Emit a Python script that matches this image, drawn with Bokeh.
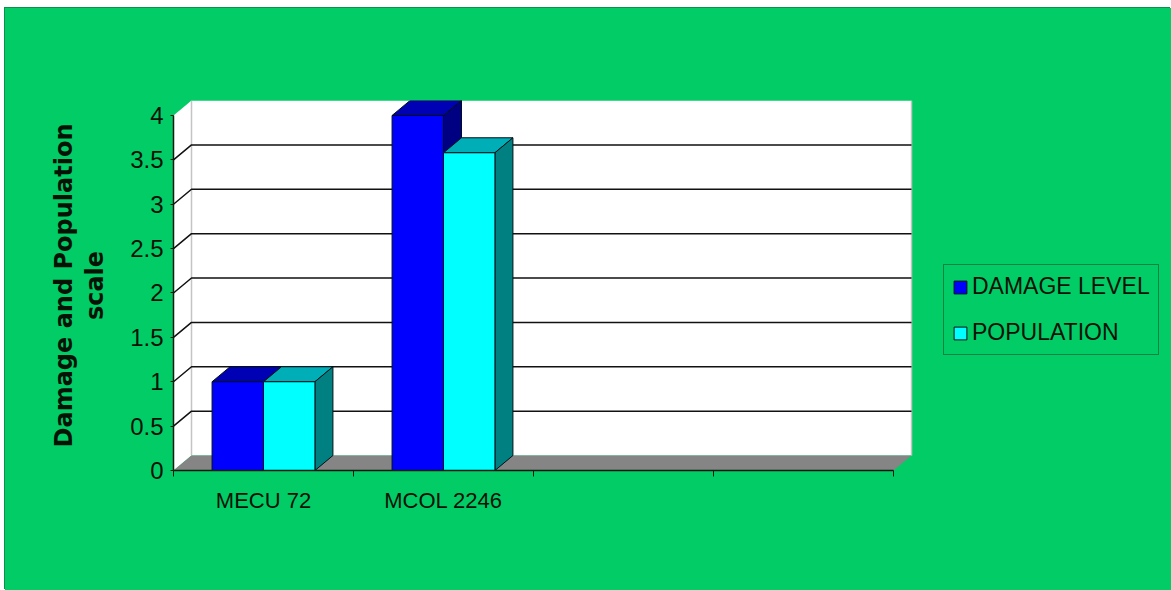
from bokeh.embed import file_html
from bokeh.resources import INLINE
from bokeh.plotting import figure
from bokeh.models import (ColumnDataSource, FixedTicker, Legend, LegendItem, Range1d)

# Chart values
categories = ["MECU 72", "MCOL 2246"]
damage_level = [1.0, 4.0]
population = [1.0, 3.58]
y_ticks = [0, 0.5, 1, 1.5, 2, 2.5, 3, 3.5, 4]
y_tick_labels = ["0", "0.5", "1", "1.5", "2", "2.5", "3", "3.5", "4"]
n_slots = 4
x_boundaries = [0, 1, 2, 3, 4]
x_label_slots = [0.5, 1.5, 2.5, 3.5]

# Pseudo-3D depth of the chart box, in data units
DEPTH_X = 0.1
DEPTH_Y = 0.169
BAR_W = 1 / 3.5
GAP = 0.75 * BAR_W

GREEN = "#02CC66"
INK = "#061206"
FONT = "Liberation Sans"

# The frame reaches the right edge so that the legend can sit inside it
p = figure(width=1166, height=582, output_backend="svg", toolbar_location=None,
           x_range=Range1d(0, 5.5444), y_range=Range1d(0, 4 + DEPTH_Y),
           min_border_left=168, min_border_right=0, min_border_top=92, min_border_bottom=120)
p.margin = (8, 0, 0, 5)
p.styles = {"box-shadow": "-1px -1px 0 #0E8F4C", "background-color": GREEN}
p.outline_line_color = None
p.border_fill_color = None
p.background_fill_color = None
p.xgrid.visible = False
p.ygrid.visible = False

# Back wall, side wall and floor
top = y_ticks[-1]
p.patch([DEPTH_X, n_slots + DEPTH_X, n_slots + DEPTH_X, DEPTH_X],
        [DEPTH_Y, DEPTH_Y, top + DEPTH_Y, top + DEPTH_Y],
        fill_color="white", line_color=None)
p.patch([0, DEPTH_X, DEPTH_X, 0], [0, DEPTH_Y, top + DEPTH_Y, top],
        fill_color="white", line_color=None)
p.multi_line([[DEPTH_X, DEPTH_X], [n_slots + DEPTH_X, n_slots + DEPTH_X]],
             [[DEPTH_Y, top + DEPTH_Y], [DEPTH_Y, top + DEPTH_Y]],
             line_color="#C4C4C4", line_width=1.5)
p.patch([0, n_slots, n_slots + DEPTH_X, DEPTH_X], [0, 0, DEPTH_Y, DEPTH_Y],
        fill_color="#858585", line_color=None)

# Gridlines run along the back wall and fold down the side wall to the axis
inner = y_ticks[1:-1]
p.multi_line([[n_slots + DEPTH_X, DEPTH_X, 0] for _ in inner],
             [[v + DEPTH_Y, v + DEPTH_Y, v] for v in inner],
             line_color="#111111", line_width=1.5)


def draw_bars(values, offset, front, top_face, side_face):
    lefts = [i + GAP + offset * BAR_W for i in range(len(values))]
    rights = [x + BAR_W for x in lefts]
    src = ColumnDataSource(dict(x=[(a + b) / 2 for a, b in zip(lefts, rights)], top=values))
    p.patches([[a, b, b + DEPTH_X, a + DEPTH_X] for a, b in zip(lefts, rights)],
              [[v, v, v + DEPTH_Y, v + DEPTH_Y] for v in values],
              fill_color=top_face, line_color="#001018", line_width=1)
    p.patches([[b, b + DEPTH_X, b + DEPTH_X, b] for b in rights],
              [[0, DEPTH_Y, v + DEPTH_Y, v] for v in values],
              fill_color=side_face, line_color="#001018", line_width=1)
    return p.vbar(x="x", top="top", bottom=0, width=BAR_W, source=src,
                  fill_color=front, line_color="#001018", line_width=1)


r_damage = draw_bars(damage_level, 0, "#0000FF", "#0000B4", "#000082")
r_population = draw_bars(population, 1, "#00FFFF", "#00AEB8", "#008080")

# Axes
ax = p.xaxis[0]
ax.bounds = (0, n_slots)
ax.ticker = FixedTicker(ticks=x_label_slots, minor_ticks=x_boundaries)
ax.major_label_overrides = dict(zip(x_label_slots, categories + ["", ""]))
ax.major_tick_line_color = None
ax.major_tick_in = 0
ax.major_tick_out = 0
ax.minor_tick_in = 0
ax.minor_tick_out = 6
ax.minor_tick_line_color = "#101810"
ax.axis_line_color = "#101810"
ax.axis_line_width = 1.5
ax.major_label_standoff = 11
ax.major_label_text_font = FONT
ax.major_label_text_font_size = "22px"
ax.major_label_text_color = INK

ay = p.yaxis[0]
ay.bounds = (0, 4)
ay.ticker = FixedTicker(ticks=y_ticks, minor_ticks=[])
ay.major_label_overrides = dict(zip(y_ticks, y_tick_labels))
ay.major_tick_in = 0
ay.major_tick_out = 3
ay.major_tick_line_color = "#101810"
ay.axis_line_color = "#101810"
ay.axis_line_width = 1.5
ay.major_label_standoff = 7
ay.major_label_text_font = FONT
ay.major_label_text_font_size = "24px"
ay.major_label_text_color = INK
ay.axis_label = "Damage and Population\nscale"
ay.axis_label_text_font = "DejaVu Sans"
ay.axis_label_text_font_style = "bold"
ay.axis_label_text_font_size = "24px"
ay.axis_label_text_color = INK
ay.axis_label_text_line_height = 1.1
ay.axis_label_standoff = 18

# Legend sits to the right of the chart box
legend = Legend(items=[LegendItem(label="DAMAGE LEVEL", renderers=[r_damage]),
                       LegendItem(label="POPULATION", renderers=[r_population])],
                location=(770, 115), orientation="vertical",
                glyph_width=16, glyph_height=16, label_standoff=4,
                label_text_font=FONT, label_text_font_size="23px", label_text_color=INK,
                label_height=25, spacing=19, padding=8, margin=0,
                background_fill_color=GREEN, background_fill_alpha=1,
                border_line_color="#0B3A1F", border_line_width=1.5)
p.add_layout(legend, "center")

open("out.html", "w").write(file_html(p, INLINE))
